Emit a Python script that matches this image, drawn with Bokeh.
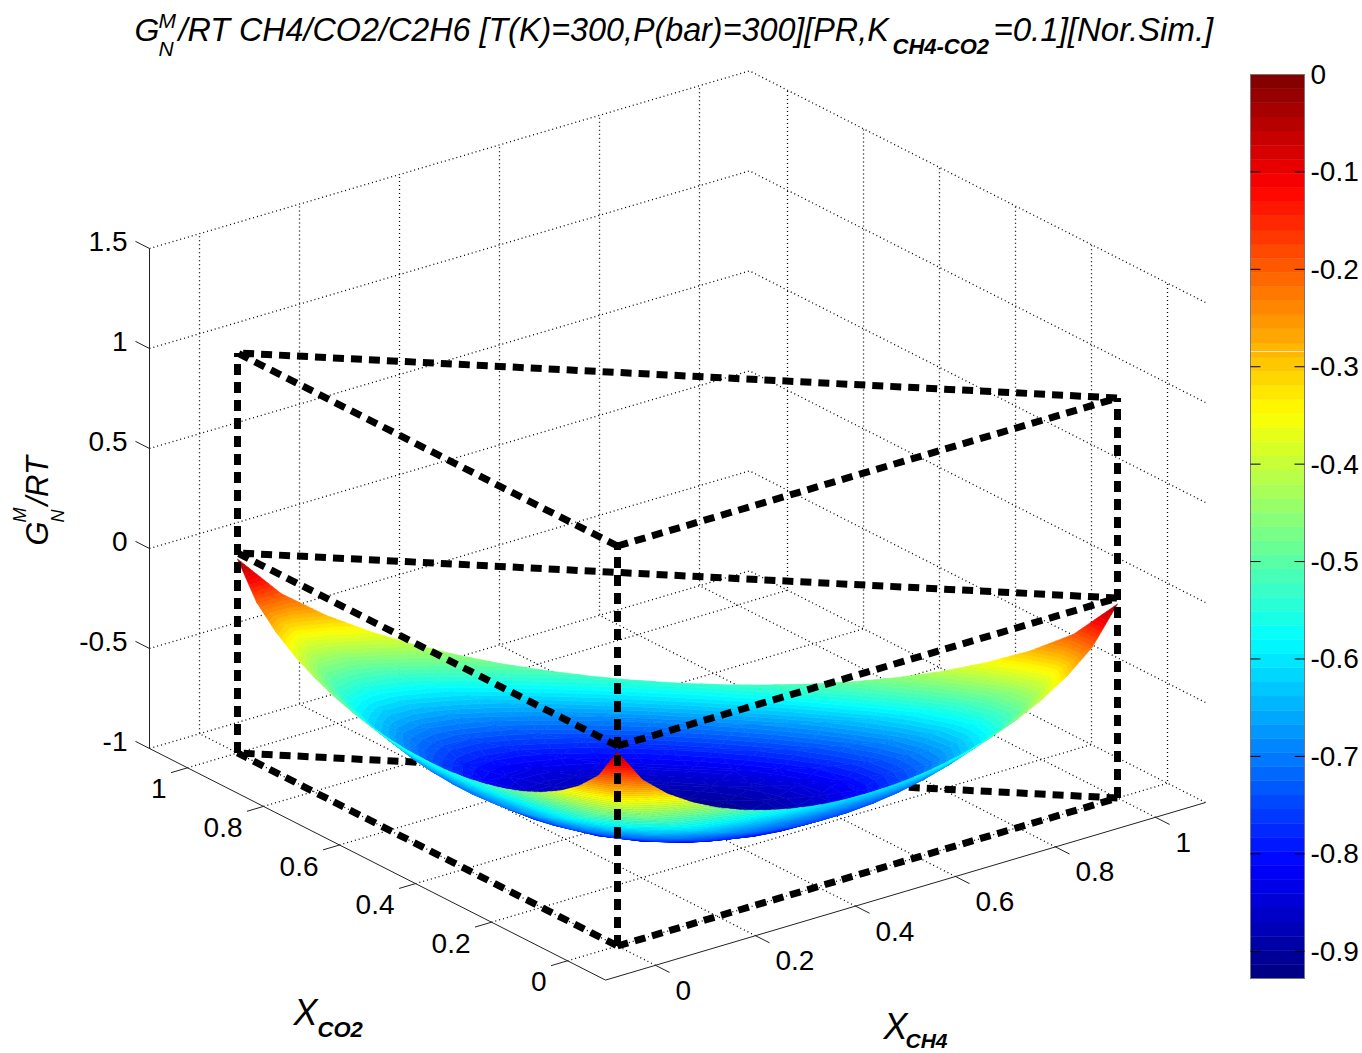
from bokeh.plotting import figure
from bokeh.models import Range1d, ColumnDataSource
from bokeh.core.properties import value
from bokeh.embed import file_html
from bokeh.resources import INLINE

# ---------- data ----------
X_TICKS = [0, 0.2, 0.4, 0.6, 0.8, 1]
Y_TICKS = [0, 0.2, 0.4, 0.6, 0.8, 1]
X_LABELS = ["0", "0.2", "0.4", "0.6", "0.8", "1"]
Y_LABELS = ["0", "0.2", "0.4", "0.6", "0.8", "1"]
Z_TICKS = [-1, -0.5, 0, 0.5, 1, 1.5]
Z_LABELS = ["-1", "-0.5", "0", "0.5", "1", "1.5"]
CBAR_TICKS = [0, -0.1, -0.2, -0.3, -0.4, -0.5, -0.6, -0.7, -0.8, -0.9]
CBAR_LABELS = ["0", "-0.1", "-0.2", "-0.3", "-0.4", "-0.5", "-0.6", "-0.7", "-0.8", "-0.9"]
CMIN, CMAX = -0.928, 0.0
PRISM_X = [0, 1, 0]
PRISM_Y = [0, 0, 1]
PRISM_Z = [-1, 0, 1]
GRID_STEP = 0.05

# surface height, one row per X_CO2 = 0, .05, ... 1; inside a row X_CH4 = 0, .05, ...
SURFACE_Z = [
 [-.030,-.207,-.314,-.394,-.457,-.506,-.544,-.573,-.593,-.604,-.608,-.604,-.593,-.573,-.544,-.506,-.457,-.394,-.314,-.207,-.030],
 [-.197,-.372,-.477,-.556,-.616,-.663,-.699,-.724,-.741,-.749,-.749,-.740,-.723,-.697,-.661,-.614,-.553,-.474,-.369,-.193],
 [-.296,-.469,-.572,-.648,-.707,-.751,-.783,-.806,-.819,-.823,-.818,-.804,-.781,-.748,-.703,-.644,-.567,-.462,-.288],
 [-.369,-.540,-.641,-.715,-.770,-.812,-.841,-.860,-.869,-.868,-.858,-.838,-.807,-.765,-.708,-.633,-.531,-.358],
 [-.425,-.594,-.693,-.764,-.816,-.854,-.880,-.895,-.899,-.893,-.877,-.850,-.810,-.756,-.683,-.583,-.412],
 [-.469,-.635,-.731,-.800,-.849,-.884,-.905,-.915,-.914,-.902,-.879,-.842,-.791,-.720,-.622,-.454],
 [-.502,-.666,-.759,-.824,-.870,-.901,-.918,-.923,-.916,-.896,-.863,-.815,-.747,-.652,-.486],
 [-.527,-.688,-.778,-.840,-.881,-.907,-.919,-.918,-.903,-.874,-.830,-.766,-.673,-.509],
 [-.545,-.702,-.789,-.846,-.883,-.904,-.910,-.901,-.877,-.837,-.776,-.686,-.525],
 [-.555,-.709,-.791,-.844,-.876,-.890,-.888,-.870,-.835,-.779,-.693,-.535],
 [-.558,-.708,-.786,-.833,-.859,-.866,-.855,-.825,-.774,-.692,-.538],
 [-.555,-.700,-.773,-.814,-.832,-.830,-.807,-.762,-.685,-.535],
 [-.545,-.685,-.751,-.785,-.794,-.780,-.741,-.670,-.525],
 [-.527,-.661,-.720,-.745,-.742,-.712,-.648,-.509],
 [-.502,-.629,-.678,-.692,-.673,-.618,-.486],
 [-.469,-.586,-.624,-.621,-.577,-.454],
 [-.425,-.531,-.552,-.524,-.412],
 [-.369,-.458,-.455,-.358],
 [-.296,-.360,-.288],
 [-.197,-.193],
 [-.030],
]

# ---------- view of the 3-D box ----------
XLO, XHI, YLO, YHI, ZLO, ZHI = -0.1, 1.1, -0.1, 1.1, -1.0, 1.5

def sx(x, y, z=0.0):
    return 617 + 500 * x - 380 * y

def sy(x, y, z):
    return 945.5 - 148 * x - 193 * y - 200 * (z + 1)

def depth(x, y, z):
    return 263 * x + 346 * y - 122 * z

def jet(i, n=64):
    t = (i + 0.5) / n
    f = lambda v: int(round(255 * min(1.0, max(0.0, v))))
    r = f(min(4 * t - 1.5, -4 * t + 4.5))
    g = f(min(4 * t - 0.5, -4 * t + 3.5))
    b = f(min(4 * t + 0.5, -4 * t + 2.5))
    return "#%02x%02x%02x" % (r, g, b)

COLORS = [jet(i) for i in range(64)]

p = figure(width=1362, height=1053, x_range=Range1d(0, 1362), y_range=Range1d(1053, 0),
           toolbar_location=None, output_backend="svg", min_border=0,
           background_fill_color="white", border_fill_color="white", outline_line_color=None)
p.axis.visible = False
p.grid.visible = False

def T(x, y, s, size, style="normal", align="left", angle=0.0):
    p.text(x=[x], y=[y], text=[s], text_font=value("Liberation Sans"),
           text_font_size=f"{size}px", text_font_style=style, text_align=align,
           text_baseline="middle", angle=angle, text_color="black")

DOT = dict(line_color="#000000", line_width=1.3, line_dash="1 3")
for z in Z_TICKS:
    p.line([sx(XLO, YHI), sx(XHI, YHI), sx(XHI, YLO)],
           [sy(XLO, YHI, z), sy(XHI, YHI, z), sy(XHI, YLO, z)], **DOT)
for x in X_TICKS:
    p.line([sx(x, YLO), sx(x, YHI), sx(x, YHI)],
           [sy(x, YLO, ZLO), sy(x, YHI, ZLO), sy(x, YHI, ZHI)], **DOT)
for y in Y_TICKS:
    p.line([sx(XLO, y), sx(XHI, y), sx(XHI, y)],
           [sy(XLO, y, ZLO), sy(XHI, y, ZLO), sy(XHI, y, ZHI)], **DOT)

AX = dict(line_color="#222222", line_width=1)
p.line([sx(XLO, YHI), sx(XLO, YLO), sx(XHI, YLO)],
       [sy(XLO, YHI, ZLO), sy(XLO, YLO, ZLO), sy(XHI, YLO, ZLO)], **AX)
p.line([sx(XLO, YHI), sx(XLO, YHI)], [sy(XLO, YHI, ZLO), sy(XLO, YHI, ZHI)], **AX)

for x, s in zip(X_TICKS, X_LABELS):
    p.line([sx(x, YLO), sx(x, YLO - 0.037)], [sy(x, YLO, ZLO), sy(x, YLO - 0.037, ZLO)], **AX)
    T(sx(x, YLO) + 20, sy(x, YLO, ZLO) + 25, s, 28)
for y, s in zip(Y_TICKS, Y_LABELS):
    p.line([sx(XLO, y), sx(XLO - 0.033, y)], [sy(XLO, y, ZLO), sy(XLO - 0.033, y, ZLO)], **AX)
    T(sx(XLO, y) - 21, sy(XLO, y, ZLO) + 21, s, 28, align="right")
for z, s in zip(Z_TICKS, Z_LABELS):
    p.line([sx(XLO, YHI), sx(XLO, YHI + 0.037)], [sy(XLO, YHI, z), sy(XLO, YHI + 0.037, z)], **AX)
    T(127, sy(XLO, YHI, z) - 7, s, 28, align="right")

# ---------- dashed prism ----------
DASH = dict(line_color="black", line_width=7, line_dash="11 7")

def ring(z):
    xs = PRISM_X + PRISM_X[:1]
    ys = PRISM_Y + PRISM_Y[:1]
    return [sx(a, b) for a, b in zip(xs, ys)], [sy(a, b, z) for a, b in zip(xs, ys)]

# lowest hypotenuse lies behind the surface
p.line([sx(PRISM_X[1], PRISM_Y[1]), sx(PRISM_X[2], PRISM_Y[2])],
       [sy(PRISM_X[1], PRISM_Y[1], PRISM_Z[0]), sy(PRISM_X[2], PRISM_Y[2], PRISM_Z[0])], **DASH)

# ---------- surface: planar facets split into the 64 colour bands ----------
def clip(poly, level, keep_above):
    out = []
    for k in range(len(poly)):
        a, b = poly[k], poly[(k + 1) % len(poly)]
        ina = a[2] >= level if keep_above else a[2] <= level
        inb = b[2] >= level if keep_above else b[2] <= level
        if ina:
            out.append(a)
        if ina != inb:
            t = (level - a[2]) / (b[2] - a[2])
            out.append((a[0] + t * (b[0] - a[0]), a[1] + t * (b[1] - a[1]), level))
    return out

facets = []
for j, row in enumerate(SURFACE_Z):
    for i in range(len(row) - 1):
        A = (i * GRID_STEP, j * GRID_STEP, row[i])
        B = ((i + 1) * GRID_STEP, j * GRID_STEP, row[i + 1])
        C = (i * GRID_STEP, (j + 1) * GRID_STEP, SURFACE_Z[j + 1][i])
        facets.append((A, B, C))
        if i < len(row) - 2:
            D = ((i + 1) * GRID_STEP, (j + 1) * GRID_STEP, SURFACE_Z[j + 1][i + 1])
            facets.append((B, D, C))

facets.sort(key=lambda f: -sum(depth(*v) for v in f))

bw = (CMAX - CMIN) / 64
xs_, ys_, cs_ = [], [], []
for f in facets:
    lo = min(v[2] for v in f)
    hi = max(v[2] for v in f)
    i0 = max(0, int((lo - CMIN) / bw))
    i1 = min(63, int((hi - CMIN) / bw))
    for b in range(i0, i1 + 1):
        poly = clip(list(f), CMIN + b * bw, True) if b > 0 else list(f)
        if poly and b < 63:
            poly = clip(poly, CMIN + (b + 1) * bw, False)
        if len(poly) >= 3:
            xs_.append([sx(v[0], v[1]) for v in poly])
            ys_.append([sy(*v) for v in poly])
            cs_.append(COLORS[b])

p.patches("xs", "ys", source=ColumnDataSource(dict(xs=xs_, ys=ys_, c=cs_)),
          fill_color="c", line_color="c", line_width=0.6)

# the rest of the prism is drawn over the surface
x0, y0 = ring(PRISM_Z[0])
p.line(x0[:2], y0[:2], **DASH)
p.line(x0[2:], y0[2:], **DASH)
for z in PRISM_Z[1:]:
    xr, yr = ring(z)
    p.line(xr, yr, **DASH)
for a, b in zip(PRISM_X, PRISM_Y):
    p.line([sx(a, b), sx(a, b)], [sy(a, b, PRISM_Z[0]), sy(a, b, PRISM_Z[2])], **DASH)

# ---------- colour bar ----------
BAR_L, BAR_R, BAR_T, BAR_B = 1250, 1304, 74, 978
def by(v):
    return BAR_T + (CMAX - v) / (CMAX - CMIN) * (BAR_B - BAR_T)

p.quad(left=[BAR_L] * 64, right=[BAR_R] * 64,
       top=[by(CMIN + (i + 1) * bw) for i in range(64)],
       bottom=[by(CMIN + i * bw) for i in range(64)],
       fill_color=COLORS, line_color=COLORS, line_width=0.5)
p.line([BAR_L, BAR_R], [351, 351], line_color="#f4e9c0", line_width=1)
p.line([BAR_L, BAR_R, BAR_R, BAR_L, BAR_L], [BAR_T, BAR_T, BAR_B, BAR_B, BAR_T],
       line_color="#777777", line_width=1)
for v, s in zip(CBAR_TICKS, CBAR_LABELS):
    if v != 0:
        p.line([BAR_L, BAR_L + 10], [by(v), by(v)], line_color="black", line_width=1)
        p.line([BAR_R - 10, BAR_R], [by(v), by(v)], line_color="black", line_width=1)
    T(1310, by(v), s, 28)

# ---------- titles ----------
T(134, 29, "G", 32, "italic")
T(158, 20, "M", 21, "italic")
T(158, 48, "N", 21, "italic")
T(178, 29, "/RT CH4/CO2/C2H6 [T(K)=300,P(bar)=300][PR,K", 32.3, "italic")
T(892, 46, "CH4-CO2", 22, "bold italic")
T(993, 29, "=0.1][Nor.Sim.]", 33, "italic")

T(293, 1012, "X", 36, "italic")
T(317, 1029, "CO2", 22, "bold italic")
T(883, 1026, "X", 36, "italic")
T(905, 1040, "CH4", 21, "bold italic")

A90 = 1.5707963
T(37, 545, "G", 31, "italic", angle=A90)
T(19, 522, "M", 18, "italic", angle=A90)
T(57, 522, "N", 18, "italic", angle=A90)
T(37, 505, "/RT", 31, "italic", angle=A90)

open("out.html", "w").write(file_html(p, INLINE))
